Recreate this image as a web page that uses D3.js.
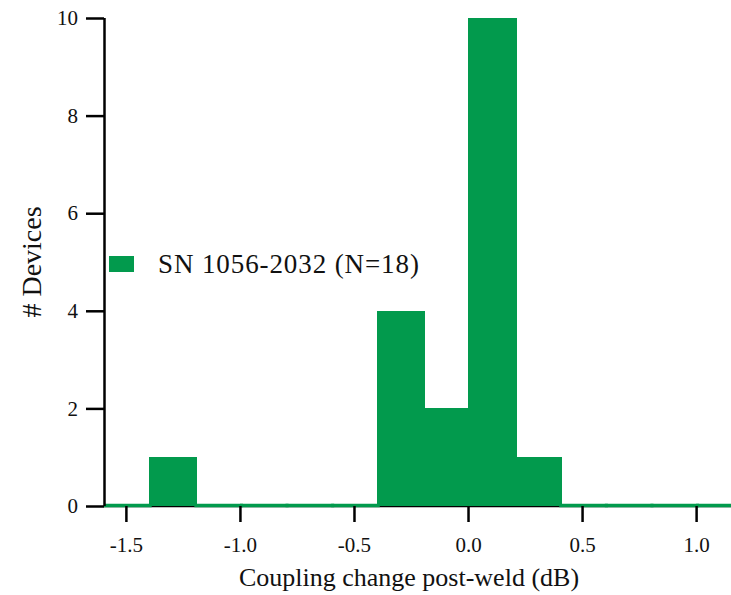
<!DOCTYPE html>
<html>
<head>
<meta charset="utf-8">
<script src="https://cdn.jsdelivr.net/npm/d3@7"></script>
<style>
  body { margin: 0; background: #fff; }
  text { font-family: "Liberation Serif", "Times New Roman", serif; fill: #111; }
</style>
</head>
<body>
<div id="chart"></div>
<script>
    // histogram bins (lower edge, width 0.2 dB) and counts
    const binStarts = [-1.6, -1.4, -1.2, -1.0, -0.8, -0.6, -0.4, -0.2, 0.0, 0.2, 0.4, 0.6, 0.8, 1.0];
    const counts    = [0, 1, 0, 0, 0, 0, 4, 2, 10, 1, 0, 0, 0, 0];
    const binWidth = 0.2;
    const xTicks = [-1.5, -1.0, -0.5, 0.0, 0.5, 1.0];
    const yTicks = [0, 2, 4, 6, 8, 10];
    const seriesName = 'SN 1056-2032 (N=18)';

    const green = '#029a4d';
    const w = 731;
    const h = 595;
    const padding = {top: 18, right: 0, bottom: 89, left: 104};

    const dataset = binStarts.map((b, i) => ({x0: b, x1: b + binWidth, n: counts[i]}));

    const svg = d3.select('#chart')
        .append('svg')
        .attr('width', w)
        .attr('height', h);

    const xScale = d3.scaleLinear()
        .domain([-1.596, 1.153])
        .range([padding.left, w - padding.right]);

    const yScale = d3.scaleLinear()
        .domain([0, 10])
        .range([h - padding.bottom, padding.top]);

    const plot = svg.append('g');

    svg.append('clipPath').attr('id', 'clip')
        .append('rect')
        .attr('x', padding.left).attr('y', 0)
        .attr('width', w - padding.left).attr('height', h);

    // x axis line sits under the bars
    plot.append('line')
        .attr('x1', padding.left).attr('x2', w)
        .attr('y1', yScale(0) + 0.5).attr('y2', yScale(0) + 0.5)
        .attr('stroke', '#000').attr('stroke-width', 1.5);

    const bars = plot.append('g').attr('clip-path', 'url(#clip)');

    // drawn right to left so each bar's outline edge stays on top of its neighbour
    bars.selectAll('rect')
        .data(dataset.filter(d => d.n > 0).reverse())
        .enter()
        .append('rect')
        .attr('x', d => xScale(d.x0))
        .attr('y', d => yScale(d.n))
        .attr('width', d => xScale(d.x1) - xScale(d.x0) + 3)
        .attr('height', d => yScale(0) - yScale(d.n))
        .attr('fill', green)
        .attr('shape-rendering', 'crispEdges');

    // empty bins show as a flat green line on the baseline
    bars.selectAll('line.zero')
        .data(dataset.filter(d => d.n === 0))
        .enter()
        .append('line')
        .attr('class', 'zero')
        .attr('x1', d => xScale(d.x0))
        .attr('x2', d => xScale(d.x1) + 3)
        .attr('y1', yScale(0) - 0.5)
        .attr('y2', yScale(0) - 0.5)
        .attr('stroke', green)
        .attr('stroke-width', 3.5);

    const xAxis = d3.axisBottom(xScale)
        .tickValues(xTicks)
        .tickFormat(d => d3.format('.1f')(d).replace('−', '-'))
        .tickSize(16)
        .tickPadding(15);

    const yAxis = d3.axisLeft(yScale)
        .tickValues(yTicks)
        .tickFormat(d3.format('d'))
        .tickSize(18)
        .tickPadding(8);

    const gx = svg.append('g')
        .attr('transform', 'translate(0,' + yScale(0) + ')')
        .call(xAxis);
    gx.select('.domain').remove();
    gx.selectAll('.tick line').attr('stroke', '#000').attr('stroke-width', 2.5);
    gx.selectAll('.tick text').style('font-size', '21px').attr('fill', '#111');

    const gy = svg.append('g')
        .attr('transform', 'translate(' + padding.left + ',0)')
        .call(yAxis);
    gy.select('.domain')
        .attr('d', 'M0.5,' + yScale(10) + 'V' + yScale(0))
        .attr('stroke', '#000').attr('stroke-width', 2.5);
    gy.selectAll('.tick line').attr('stroke', '#000').attr('stroke-width', 2.5);
    gy.selectAll('.tick text').style('font-size', '21px').attr('fill', '#111');

    svg.append('text')
        .attr('x', 409)
        .attr('y', 586)
        .attr('text-anchor', 'middle')
        .style('font-size', '26px')
        .text('Coupling change post-weld (dB)');

    svg.append('text')
        .attr('transform', 'translate(41,' + 262 + ') rotate(-90)')
        .attr('text-anchor', 'middle')
        .style('font-size', '28px')
        .text('# Devices');

    // legend
    svg.append('rect')
        .attr('x', 109).attr('y', 256)
        .attr('width', 25).attr('height', 16)
        .attr('fill', green);

    svg.append('text')
        .attr('x', 158)
        .attr('y', 273)
        .style('font-size', '27px')
        .style('letter-spacing', '0.9px')
        .text(seriesName);
</script>
</body>
</html>
